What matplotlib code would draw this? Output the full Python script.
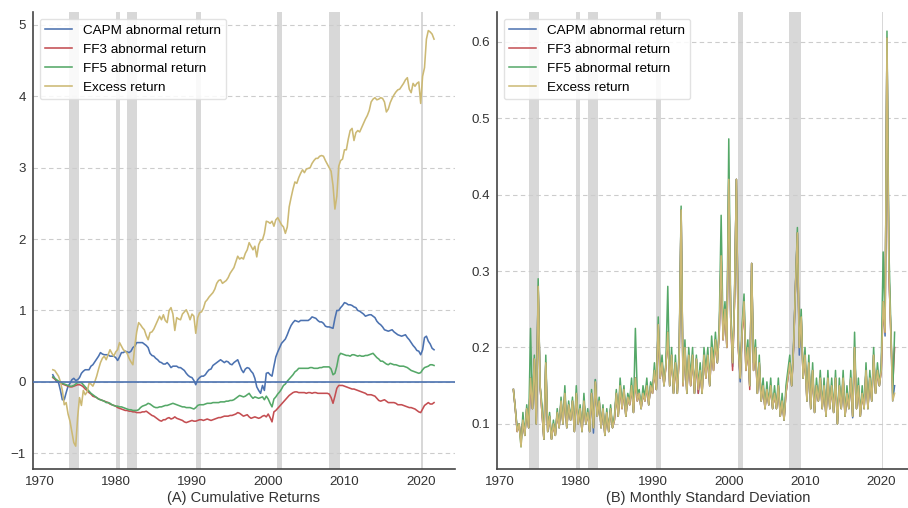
import numpy as np
import matplotlib
matplotlib.use("Agg")
from matplotlib import pyplot as plt

# Cumulative returns / monthly std at quarterly steps
# (first point is Q4 1971, last point Q4 2021)
years = np.arange(1971.75, 2021.76, 0.25)

capm_cum = [0.10,
    0.05, 0.00, -0.01, -0.12,   -0.25, -0.25, -0.15, -0.06,   -0.02, 0.03, 0.05, 0.02,
    0.03, 0.06, 0.12, 0.15,     0.17, 0.17, 0.17, 0.22,       0.24, 0.28, 0.32, 0.36,
    0.41, 0.39, 0.38, 0.38,     0.38, 0.36, 0.36, 0.36,       0.34, 0.30, 0.35, 0.41,
    0.41, 0.43, 0.42, 0.41,     0.43, 0.48, 0.50, 0.55,       0.55, 0.55, 0.55, 0.53,
    0.51, 0.48, 0.40, 0.37,     0.36, 0.33, 0.31, 0.28,       0.27, 0.25, 0.25, 0.27,
    0.24, 0.20, 0.22, 0.22,     0.22, 0.20, 0.20, 0.18,       0.16, 0.12, 0.09, 0.07,
    0.06, 0.02, -0.04, 0.03,    0.06, 0.08, 0.08, 0.10,       0.14, 0.17, 0.18, 0.23,
    0.25, 0.27, 0.29, 0.31,     0.29, 0.27, 0.29, 0.28,       0.25, 0.24, 0.27, 0.29,
    0.31, 0.24, 0.17, 0.13,     0.18, 0.20, 0.19, 0.15,       0.12, 0.05, -0.07, -0.12,
    -0.16, -0.05, -0.12, 0.12,  0.13, 0.10, 0.08, 0.22,       0.35, 0.42, 0.48, 0.54,
    0.57, 0.60, 0.66, 0.73,     0.79, 0.83, 0.86, 0.85,       0.84, 0.86, 0.86, 0.86,
    0.86, 0.86, 0.88, 0.91,     0.90, 0.89, 0.86, 0.84,       0.84, 0.82, 0.78, 0.77,
    0.77, 0.76, 0.75, 0.89,     1.00, 1.00, 1.04, 1.07,       1.11, 1.10, 1.08, 1.08,
    1.07, 1.05, 1.04, 1.00,     0.99, 0.97, 0.95, 0.92,       0.93, 0.94, 0.94, 0.92,
    0.90, 0.85, 0.82, 0.80,     0.77, 0.73, 0.72, 0.71,       0.72, 0.73, 0.70, 0.68,
    0.66, 0.65, 0.64, 0.65,     0.66, 0.62, 0.59, 0.55,       0.51, 0.48, 0.44, 0.43,
    0.38, 0.45, 0.62, 0.64,     0.57, 0.53, 0.47, 0.45]

ff3_cum = [0.06,
    0.04, 0.02, 0.00, -0.01,    -0.03, -0.04, -0.05, -0.06,   -0.07, -0.07, -0.06, -0.05,
    -0.04, -0.04, -0.05, -0.07, -0.10, -0.12, -0.15, -0.17,   -0.20, -0.21, -0.22, -0.24,
    -0.25, -0.26, -0.27, -0.28, -0.29, -0.31, -0.32, -0.33,   -0.34, -0.36, -0.37, -0.38,
    -0.39, -0.40, -0.40, -0.41, -0.41, -0.42, -0.42, -0.43,   -0.43, -0.43, -0.42, -0.42,
    -0.41, -0.43, -0.45, -0.47, -0.48, -0.50, -0.52, -0.54,   -0.55, -0.53, -0.53, -0.51,
    -0.50, -0.52, -0.51, -0.49, -0.51, -0.52, -0.53, -0.54,   -0.56, -0.57, -0.56, -0.55,
    -0.54, -0.55, -0.55, -0.54, -0.53, -0.53, -0.54, -0.53,   -0.52, -0.53, -0.54, -0.53,
    -0.52, -0.51, -0.50, -0.50, -0.49, -0.48, -0.48, -0.48,   -0.47, -0.47, -0.46, -0.45,
    -0.43, -0.44, -0.46, -0.48, -0.47, -0.46, -0.49, -0.51,   -0.50, -0.49, -0.50, -0.51,
    -0.50, -0.48, -0.47, -0.49, -0.45, -0.50, -0.56, -0.42,   -0.40, -0.37, -0.34, -0.31,
    -0.28, -0.25, -0.22, -0.19, -0.17, -0.15, -0.14, -0.14,   -0.15, -0.15, -0.15, -0.15,
    -0.16, -0.15, -0.15, -0.16, -0.15, -0.15, -0.16, -0.16,   -0.16, -0.16, -0.16, -0.16,
    -0.17, -0.22, -0.30, -0.20, -0.09, -0.05, -0.05, -0.05,   -0.06, -0.07, -0.08, -0.09,
    -0.10, -0.10, -0.11, -0.12, -0.13, -0.14, -0.15, -0.16,   -0.18, -0.18, -0.18, -0.19,
    -0.20, -0.23, -0.26, -0.27, -0.26, -0.25, -0.27, -0.29,   -0.29, -0.29, -0.29, -0.30,
    -0.32, -0.32, -0.32, -0.33, -0.34, -0.35, -0.36, -0.36,   -0.37, -0.38, -0.40, -0.42,
    -0.43, -0.38, -0.33, -0.31, -0.29, -0.31, -0.31, -0.29]

ff5_cum = [0.07,
    0.05, 0.03, 0.01, 0.00,     -0.02, -0.03, -0.04, -0.05,   -0.06, -0.06, -0.05, -0.03,
    -0.01, -0.01, -0.01, -0.04, -0.07, -0.10, -0.13, -0.16,   -0.18, -0.20, -0.22, -0.24,
    -0.25, -0.26, -0.27, -0.29, -0.29, -0.30, -0.32, -0.33,   -0.34, -0.34, -0.35, -0.35,
    -0.36, -0.37, -0.38, -0.39, -0.39, -0.40, -0.40, -0.40,   -0.39, -0.36, -0.34, -0.33,
    -0.32, -0.30, -0.31, -0.33, -0.35, -0.36, -0.36, -0.35,   -0.35, -0.34, -0.33, -0.33,
    -0.32, -0.31, -0.30, -0.31, -0.32, -0.33, -0.34, -0.35,   -0.35, -0.36, -0.36, -0.36,
    -0.37, -0.38, -0.36, -0.33, -0.32, -0.32, -0.32, -0.31,   -0.30, -0.30, -0.30, -0.29,
    -0.29, -0.29, -0.29, -0.28, -0.28, -0.28, -0.27, -0.27,   -0.26, -0.26, -0.25, -0.23,
    -0.21, -0.19, -0.20, -0.21, -0.20, -0.18, -0.16, -0.20,   -0.23, -0.21, -0.22, -0.23,
    -0.22, -0.21, -0.25, -0.20, -0.24, -0.30, -0.35, -0.24,   -0.21, -0.17, -0.14, -0.10,
    -0.05, -0.03, 0.01, 0.04,   0.07, 0.10, 0.14, 0.16,       0.19, 0.19, 0.19, 0.19,
    0.19, 0.19, 0.20, 0.20,     0.19, 0.19, 0.19, 0.20,       0.20, 0.21, 0.21, 0.21,
    0.21, 0.18, 0.10, 0.12,     0.22, 0.36, 0.40, 0.39,       0.38, 0.37, 0.37, 0.36,
    0.38, 0.38, 0.37, 0.36,     0.37, 0.36, 0.36, 0.37,       0.37, 0.38, 0.39, 0.40,
    0.37, 0.34, 0.32, 0.29,     0.29, 0.27, 0.25, 0.24,       0.26, 0.25, 0.24, 0.24,
    0.23, 0.22, 0.22, 0.22,     0.21, 0.20, 0.18, 0.16,       0.15, 0.14, 0.13, 0.12,
    0.13, 0.17, 0.20, 0.21,     0.22, 0.24, 0.24, 0.23]

excess_cum = [0.17,
    0.16, 0.12, 0.08, 0.00,     -0.12, -0.32, -0.29, -0.45,   -0.55, -0.70, -0.85, -0.90,
    -0.50, -0.22, -0.33, -0.12, -0.18, -0.14, -0.02, -0.03,   -0.06, 0.00, 0.08, 0.18,
    0.27, 0.33, 0.36, 0.31,     0.38, 0.45, 0.40, 0.36,       0.42, 0.45, 0.55, 0.50,
    0.45, 0.43, 0.40, 0.33,     0.28, 0.24, 0.50, 0.70,       0.83, 0.80, 0.76, 0.73,
    0.65, 0.59, 0.69, 0.70,     0.74, 0.80, 0.86, 0.92,       0.87, 0.94, 0.86, 0.83,
    1.00, 1.04, 0.95, 0.72,     0.90, 0.88, 0.87, 0.95,       0.98, 1.01, 0.95, 0.87,
    0.95, 0.92, 0.68, 0.90,     0.97, 0.98, 1.03, 1.12,       1.15, 1.19, 1.22, 1.25,
    1.30, 1.38, 1.42, 1.43,     1.38, 1.40, 1.42, 1.46,       1.52, 1.56, 1.60, 1.68,
    1.76, 1.72, 1.74, 1.72,     1.80, 1.85, 1.95, 1.90,       1.85, 1.90, 1.75, 1.92,
    1.98, 1.99, 2.08, 2.25,     2.24, 2.22, 2.25, 2.18,       2.27, 2.30, 2.25, 2.20,
    2.17, 2.08, 2.17, 2.45,     2.58, 2.70, 2.80, 2.78,       2.86, 2.92, 2.97, 2.93,
    2.98, 2.99, 3.00, 3.06,     3.10, 3.13, 3.13, 3.16,       3.17, 3.16, 3.10, 3.05,
    3.00, 2.95, 2.75, 2.42,     2.60, 3.02, 3.10, 3.12,       3.25, 3.25, 3.40, 3.52,
    3.55, 3.38, 3.49, 3.52,     3.50, 3.56, 3.62, 3.68,       3.73, 3.80, 3.92, 3.96,
    3.98, 3.95, 3.96, 3.98,     3.97, 3.92, 3.78, 3.82,       3.91, 3.97, 4.02, 4.06,
    4.09, 4.10, 4.14, 4.18,     4.23, 4.26, 4.10, 4.05,       4.18, 4.14, 4.18, 4.20,
    3.90, 4.28, 4.40, 4.80,     4.92, 4.90, 4.87, 4.80]

capm_std = [0.145,
    0.12, 0.09, 0.10, 0.075,    0.105, 0.085, 0.12, 0.095,    0.16, 0.12, 0.185, 0.10,
    0.28, 0.15, 0.115, 0.08,    0.18, 0.09, 0.11, 0.08,       0.10, 0.085, 0.115, 0.095,
    0.13, 0.10, 0.14, 0.095,    0.125, 0.105, 0.13, 0.09,     0.14, 0.10, 0.12, 0.09,
    0.13, 0.10, 0.115, 0.09,    0.14, 0.088, 0.158, 0.11,     0.13, 0.095, 0.12, 0.085,
    0.115, 0.09, 0.12, 0.095,   0.105, 0.14, 0.11, 0.15,      0.12, 0.145, 0.11, 0.135,
    0.125, 0.15, 0.115, 0.16,   0.13, 0.14, 0.12, 0.14,       0.13, 0.15, 0.125, 0.15,
    0.14, 0.17, 0.145, 0.23,    0.16, 0.18, 0.15, 0.175,      0.22, 0.15, 0.19, 0.14,
    0.18, 0.14, 0.19, 0.38,     0.15, 0.20, 0.14, 0.19,       0.15, 0.19, 0.14, 0.185,
    0.14, 0.17, 0.14, 0.19,     0.16, 0.19, 0.15, 0.20,       0.17, 0.21, 0.18, 0.22,
    0.32, 0.21, 0.25, 0.20,     0.42, 0.24, 0.175, 0.26,      0.42, 0.20, 0.155, 0.22,
    0.26, 0.17, 0.20, 0.15,     0.31, 0.17, 0.20, 0.14,       0.18, 0.13, 0.15, 0.12,
    0.145, 0.125, 0.15, 0.12,   0.14, 0.12, 0.15, 0.11,       0.13, 0.105, 0.14, 0.16,
    0.18, 0.15, 0.20, 0.28,     0.35, 0.19, 0.24, 0.16,       0.19, 0.13, 0.18, 0.12,
    0.17, 0.115, 0.15, 0.13,    0.16, 0.12, 0.15, 0.11,       0.16, 0.12, 0.15, 0.115,
    0.16, 0.10, 0.15, 0.12,     0.16, 0.11, 0.14, 0.12,       0.16, 0.108, 0.20, 0.12,
    0.15, 0.11, 0.14, 0.12,     0.17, 0.12, 0.16, 0.13,       0.19, 0.14, 0.17, 0.15,
    0.17, 0.26, 0.215, 0.605,   0.30, 0.22, 0.13, 0.15]

ff3_std = [0.145,
    0.12, 0.09, 0.10, 0.078,    0.105, 0.085, 0.12, 0.095,    0.16, 0.12, 0.185, 0.10,
    0.28, 0.15, 0.115, 0.08,    0.18, 0.09, 0.11, 0.08,       0.10, 0.085, 0.115, 0.095,
    0.13, 0.10, 0.14, 0.095,    0.125, 0.105, 0.13, 0.09,     0.14, 0.10, 0.12, 0.09,
    0.13, 0.10, 0.115, 0.09,    0.14, 0.095, 0.155, 0.11,     0.13, 0.095, 0.12, 0.085,
    0.115, 0.09, 0.12, 0.095,   0.105, 0.14, 0.11, 0.15,      0.12, 0.145, 0.11, 0.135,
    0.125, 0.15, 0.115, 0.16,   0.13, 0.14, 0.12, 0.14,       0.13, 0.15, 0.125, 0.15,
    0.14, 0.17, 0.145, 0.23,    0.16, 0.18, 0.15, 0.175,      0.22, 0.15, 0.19, 0.14,
    0.18, 0.14, 0.19, 0.38,     0.15, 0.20, 0.14, 0.19,       0.15, 0.19, 0.14, 0.185,
    0.14, 0.17, 0.14, 0.19,     0.16, 0.19, 0.15, 0.20,       0.17, 0.21, 0.18, 0.22,
    0.32, 0.21, 0.25, 0.20,     0.42, 0.24, 0.17, 0.26,       0.42, 0.20, 0.16, 0.22,
    0.25, 0.17, 0.20, 0.145,    0.31, 0.17, 0.20, 0.14,       0.18, 0.13, 0.15, 0.12,
    0.145, 0.125, 0.15, 0.12,   0.14, 0.12, 0.15, 0.11,       0.13, 0.105, 0.14, 0.16,
    0.18, 0.15, 0.20, 0.28,     0.35, 0.20, 0.24, 0.16,       0.19, 0.13, 0.18, 0.12,
    0.17, 0.115, 0.15, 0.13,    0.16, 0.12, 0.15, 0.11,       0.16, 0.12, 0.15, 0.115,
    0.16, 0.10, 0.15, 0.12,     0.16, 0.11, 0.14, 0.12,       0.16, 0.11, 0.20, 0.12,
    0.15, 0.11, 0.14, 0.12,     0.17, 0.12, 0.16, 0.13,       0.19, 0.14, 0.17, 0.15,
    0.17, 0.26, 0.22, 0.605,    0.30, 0.22, 0.15, 0.20]

ff5_std = [0.145,
    0.12, 0.095, 0.10, 0.07,    0.115, 0.085, 0.125, 0.095,   0.225, 0.12, 0.19, 0.10,
    0.29, 0.15, 0.125, 0.08,    0.19, 0.09, 0.115, 0.08,      0.105, 0.085, 0.12, 0.095,
    0.135, 0.10, 0.15, 0.095,   0.13, 0.105, 0.135, 0.09,     0.15, 0.10, 0.125, 0.09,
    0.14, 0.10, 0.12, 0.09,     0.145, 0.095, 0.158, 0.11,    0.135, 0.095, 0.125, 0.085,
    0.12, 0.09, 0.125, 0.095,   0.11, 0.145, 0.11, 0.16,      0.125, 0.15, 0.11, 0.14,
    0.13, 0.16, 0.115, 0.225,   0.14, 0.145, 0.12, 0.15,      0.135, 0.16, 0.125, 0.155,
    0.145, 0.18, 0.145, 0.24,   0.165, 0.19, 0.15, 0.18,      0.28, 0.15, 0.20, 0.14,
    0.19, 0.14, 0.20, 0.385,    0.155, 0.21, 0.14, 0.20,      0.16, 0.20, 0.14, 0.19,
    0.15, 0.18, 0.14, 0.20,     0.17, 0.20, 0.15, 0.215,      0.18, 0.22, 0.18, 0.23,
    0.373, 0.22, 0.26, 0.21,    0.473, 0.25, 0.18, 0.27,      0.42, 0.21, 0.16, 0.23,
    0.27, 0.18, 0.21, 0.15,     0.31, 0.18, 0.21, 0.14,       0.19, 0.13, 0.16, 0.12,
    0.155, 0.125, 0.16, 0.12,   0.15, 0.12, 0.16, 0.11,       0.14, 0.105, 0.15, 0.17,
    0.19, 0.15, 0.205, 0.28,    0.357, 0.20, 0.25, 0.16,      0.20, 0.13, 0.19, 0.12,
    0.18, 0.115, 0.16, 0.13,    0.17, 0.12, 0.16, 0.11,       0.17, 0.12, 0.16, 0.115,
    0.17, 0.10, 0.16, 0.12,     0.17, 0.11, 0.15, 0.12,       0.17, 0.11, 0.22, 0.12,
    0.16, 0.11, 0.15, 0.12,     0.18, 0.12, 0.17, 0.13,       0.20, 0.14, 0.18, 0.15,
    0.18, 0.325, 0.23, 0.614,   0.33, 0.23, 0.14, 0.22]

excess_std = [0.145,
    0.12, 0.09, 0.10, 0.07,     0.105, 0.085, 0.12, 0.095,    0.16, 0.12, 0.185, 0.10,
    0.28, 0.15, 0.115, 0.08,    0.18, 0.09, 0.11, 0.08,       0.10, 0.085, 0.115, 0.095,
    0.13, 0.10, 0.14, 0.095,    0.125, 0.105, 0.13, 0.09,     0.14, 0.10, 0.12, 0.09,
    0.13, 0.10, 0.115, 0.09,    0.14, 0.095, 0.155, 0.11,     0.13, 0.095, 0.12, 0.085,
    0.115, 0.09, 0.12, 0.095,   0.105, 0.14, 0.11, 0.15,      0.12, 0.145, 0.11, 0.135,
    0.125, 0.15, 0.115, 0.16,   0.13, 0.14, 0.12, 0.14,       0.13, 0.15, 0.125, 0.15,
    0.14, 0.17, 0.145, 0.23,    0.16, 0.18, 0.15, 0.175,      0.22, 0.15, 0.19, 0.14,
    0.18, 0.14, 0.19, 0.38,     0.15, 0.20, 0.14, 0.19,       0.15, 0.19, 0.14, 0.185,
    0.145, 0.17, 0.14, 0.19,    0.16, 0.19, 0.15, 0.20,       0.17, 0.21, 0.18, 0.22,
    0.32, 0.21, 0.25, 0.20,     0.42, 0.24, 0.18, 0.26,       0.42, 0.20, 0.16, 0.22,
    0.26, 0.17, 0.20, 0.15,     0.31, 0.17, 0.20, 0.14,       0.18, 0.13, 0.15, 0.12,
    0.145, 0.125, 0.15, 0.12,   0.14, 0.12, 0.15, 0.11,       0.13, 0.105, 0.14, 0.16,
    0.18, 0.15, 0.20, 0.28,     0.35, 0.20, 0.24, 0.16,       0.19, 0.13, 0.18, 0.12,
    0.17, 0.115, 0.15, 0.13,    0.16, 0.12, 0.15, 0.11,       0.16, 0.12, 0.15, 0.115,
    0.16, 0.10, 0.15, 0.12,     0.16, 0.11, 0.14, 0.12,       0.16, 0.11, 0.20, 0.12,
    0.15, 0.11, 0.14, 0.12,     0.17, 0.12, 0.16, 0.13,       0.19, 0.14, 0.17, 0.15,
    0.17, 0.26, 0.22, 0.605,    0.30, 0.22, 0.13, 0.14]

# NBER recessions (start, end) in decimal years
rec_start = [1973.83, 1980.0, 1981.5, 1990.5, 2001.17, 2007.92, 2020.08]
rec_end = [1975.17, 1980.5, 1982.83, 1991.17, 2001.83, 2009.42, 2020.25]

labels = ["CAPM abnormal return", "FF3 abnormal return",
          "FF5 abnormal return", "Excess return"]
colors = ["#4C72B0", "#C44E52", "#55A868", "#CCB974"]

plt.rcParams['font.family'] = ['Liberation Sans', 'DejaVu Sans']

fig = plt.figure(figsize=(9.08, 5.08), dpi=100)
ax1 = fig.add_axes([33/908, 39/508, 422/908, 457/508])
ax2 = fig.add_axes([497/908, 39/508, 422/908, 457/508])


def style(ax):
    for s in ["top", "right"]:
        ax.spines[s].set_visible(False)
    for s in ["left", "bottom"]:
        ax.spines[s].set_color("#444444")
        ax.spines[s].set_linewidth(1.2)
    ax.yaxis.grid(True, linestyle=(0, (4, 3)), color="#cccccc", linewidth=0.8)
    ax.set_axisbelow(True)
    ax.tick_params(length=0, labelsize=9.6, colors="#333333", pad=5)
    ax.set_xticks([1970, 1980, 1990, 2000, 2010, 2020])
    for a, b in zip(rec_start, rec_end):
        ax.axvspan(a, b, color="#d8d8d8", lw=0, zorder=0.5)


# (A) cumulative returns
style(ax1)
for y, c, l in zip([capm_cum, ff3_cum, ff5_cum, excess_cum], colors, labels):
    ax1.plot(years, y, color=c, lw=1.15, label=l)
ax1.axhline(0, color=colors[0], lw=1.2, zorder=3)
ax1.set_xlim(1969.15, 2024.5)
ax1.set_ylim(-1.22, 5.18)
ax1.set_yticks([-1, 0, 1, 2, 3, 4, 5])
ax1.set_xlabel("(A) Cumulative Returns", fontsize=10.5, color="#333333", labelpad=2)
ax1.legend(loc="upper left", fontsize=9.7, framealpha=0.85, edgecolor="#dddddd")

# (B) monthly standard deviation
style(ax2)
for y, c, l in zip([capm_std, ff3_std, ff5_std, excess_std], colors, labels):
    ax2.plot(years, y, color=c, lw=1.1, label=l)
ax2.set_xlim(1969.6, 2024.95)
ax2.set_ylim(0.041, 0.639)
ax2.set_yticks([0.1, 0.2, 0.3, 0.4, 0.5, 0.6])
ax2.set_xlabel("(B) Monthly Standard Deviation", fontsize=10.5, color="#333333", labelpad=2)
ax2.legend(loc="upper left", fontsize=9.7, framealpha=0.85, edgecolor="#dddddd")

fig.savefig("out.png", dpi=100)
